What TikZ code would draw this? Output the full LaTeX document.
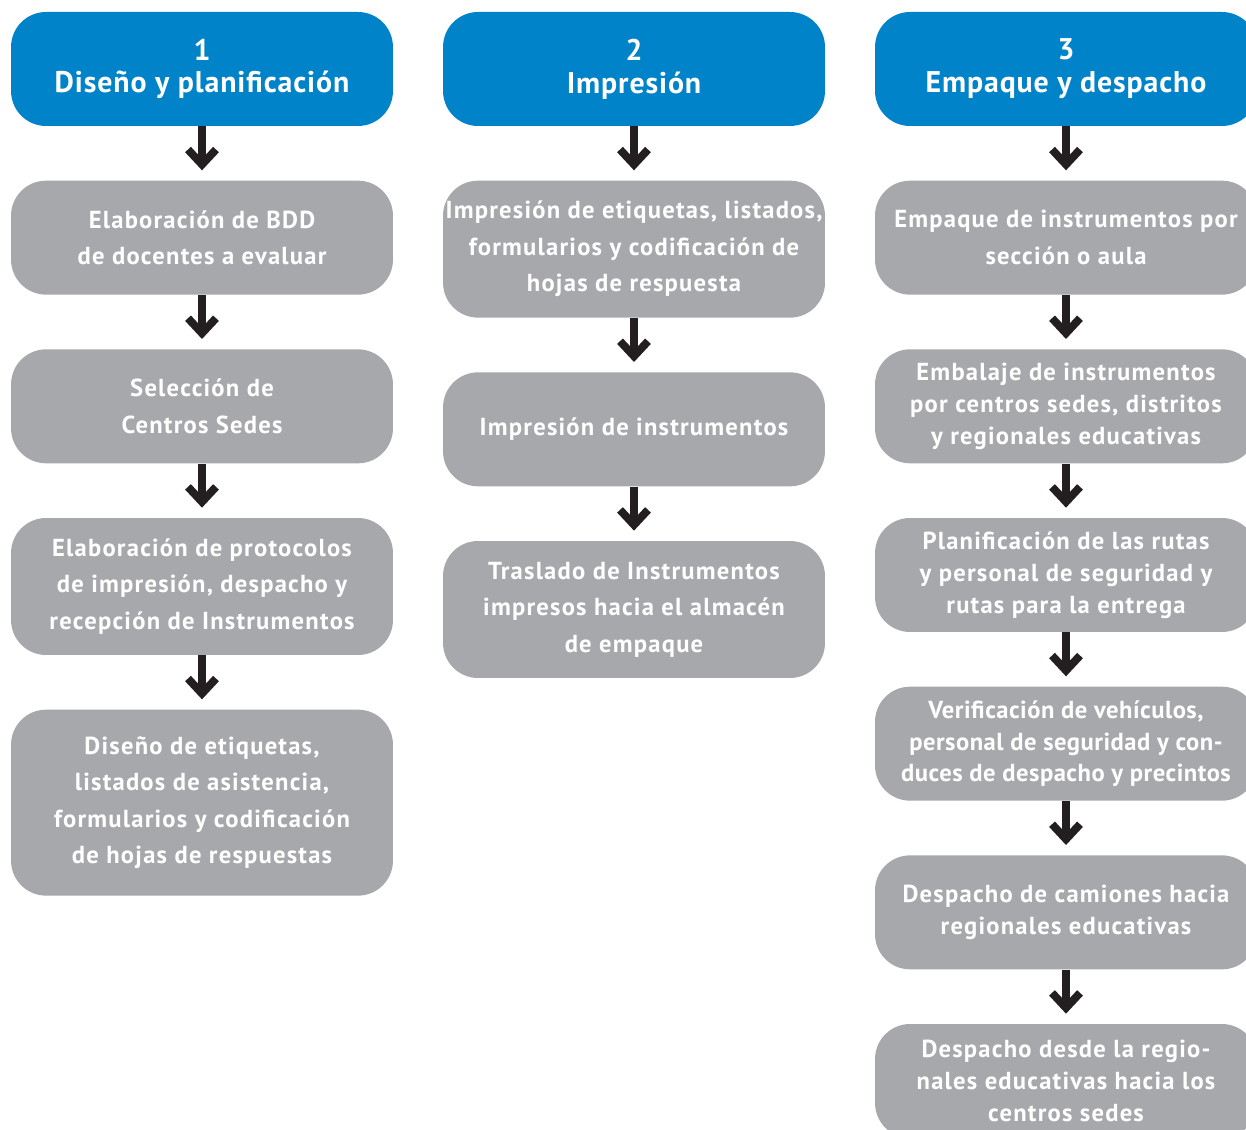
\documentclass[tikz,border=0pt]{standalone}
\usepackage{fontspec}
\setmainfont{PT Sans}
\newfontfamily\headfont[LetterSpace=3]{PT Sans}
\newfontfamily\stepfont[LetterSpace=5]{PT Sans}
\newfontfamily\narrowfont[LetterSpace=2]{PT Sans}
\usetikzlibrary{positioning,arrows.meta}
\definecolor{HeadBlue}{RGB}{0,131,200}
\definecolor{StepGray}{RGB}{167,168,172}
\definecolor{ArrowBlack}{RGB}{35,31,32}

\begin{document}
\begin{tikzpicture}[
        x=0.02cm, y=0.02cm,
        head/.style={fill=HeadBlue, text=white, rounded corners=0.7cm,
                     minimum width=7.64cm, minimum height=2.28cm, inner sep=0pt,
                     font=\headfont\fontsize{17}{18.7}\selectfont\bfseries, align=center},
        stepbox/.style={fill=StepGray, text=white, rounded corners=0.7cm,
                     minimum width=7.64cm, minimum height=2.28cm, inner sep=0pt,
                     font=\stepfont\fontsize{14}{20.8}\selectfont\bfseries, align=center},
        tightbox/.style={stepbox, font=\stepfont\fontsize{14}{18.2}\selectfont\bfseries},
        flow/.style={ArrowBlack, line width=4.5pt, shorten >=0.2cm,
                     -{Straight Barb[length=0.3cm, width=0.56cm]}},
        node distance=1.08cm
    ]
        \clip (0,0) rectangle (1246,1129);

        \node[head] (head1) at (202,1060) {1\\Diseño y planificación};
        \node[head] (head2) at (634,1060) {2\\Impresión};
        \node[head] (head3) at (1066,1060) {3\\Empaque y despacho};

        % Diseño y planificación
        \node[stepbox, below=of head1] (plan1) {Elaboración de BDD\\de docentes a evaluar};
        \node[stepbox, below=of plan1] (plan2) {Selección de\\Centros Sedes};
        \node[stepbox, below=of plan2, minimum height=2.74cm] (plan3)
            {Elaboración de protocolos\\de impresión, despacho y\\recepción de Instrumentos};
        \node[stepbox, below=of plan3, minimum height=3.72cm] (plan4)
            {Diseño de etiquetas,\\listados de asistencia,\\formularios y codificación\\de hojas de respuestas};

        % Impresión
        \node[stepbox, below=of head2, minimum height=2.74cm] (print1)
            {Impresión de etiquetas, listados,\\formularios y codificación de\\hojas de respuesta};
        \node[stepbox, below=of print1] (print2) {Impresión de instrumentos};
        \node[stepbox, below=of print2, minimum height=2.74cm] (print3)
            {Traslado de Instrumentos\\impresos hacia el almacén\\de empaque};

        % Empaque y despacho
        \node[stepbox, below=of head3] (pack1) {Empaque de instrumentos por\\sección o aula};
        \node[tightbox, below=of pack1] (pack2)
            {Embalaje de instrumentos\\por centros sedes, distritos\\y regionales educativas};
        \node[tightbox, below=of pack2] (pack3)
            {Planificación de las rutas\\y personal de seguridad y\\rutas para la entrega};
        \node[tightbox, below=of pack3, font=\narrowfont\fontsize{14}{18.2}\selectfont\bfseries] (pack4)
            {Verificación de vehículos,\\personal de seguridad y con-\\duces de despacho y precintos};
        \node[tightbox, below=of pack4] (pack5) {Despacho de camiones hacia\\regionales educativas};
        \node[tightbox, below=of pack5] (pack6)
            {Despacho desde la regio-\\nales educativas hacia los\\centros sedes};

        \draw[flow] (head1) -- (plan1);
        \draw[flow] (plan1) -- (plan2);
        \draw[flow] (plan2) -- (plan3);
        \draw[flow] (plan3) -- (plan4);

        \draw[flow] (head2) -- (print1);
        \draw[flow] (print1) -- (print2);
        \draw[flow] (print2) -- (print3);

        \draw[flow] (head3) -- (pack1);
        \draw[flow] (pack1) -- (pack2);
        \draw[flow] (pack2) -- (pack3);
        \draw[flow] (pack3) -- (pack4);
        \draw[flow] (pack4) -- (pack5);
        \draw[flow] (pack5) -- (pack6);
    \end{tikzpicture}
\end{document}
